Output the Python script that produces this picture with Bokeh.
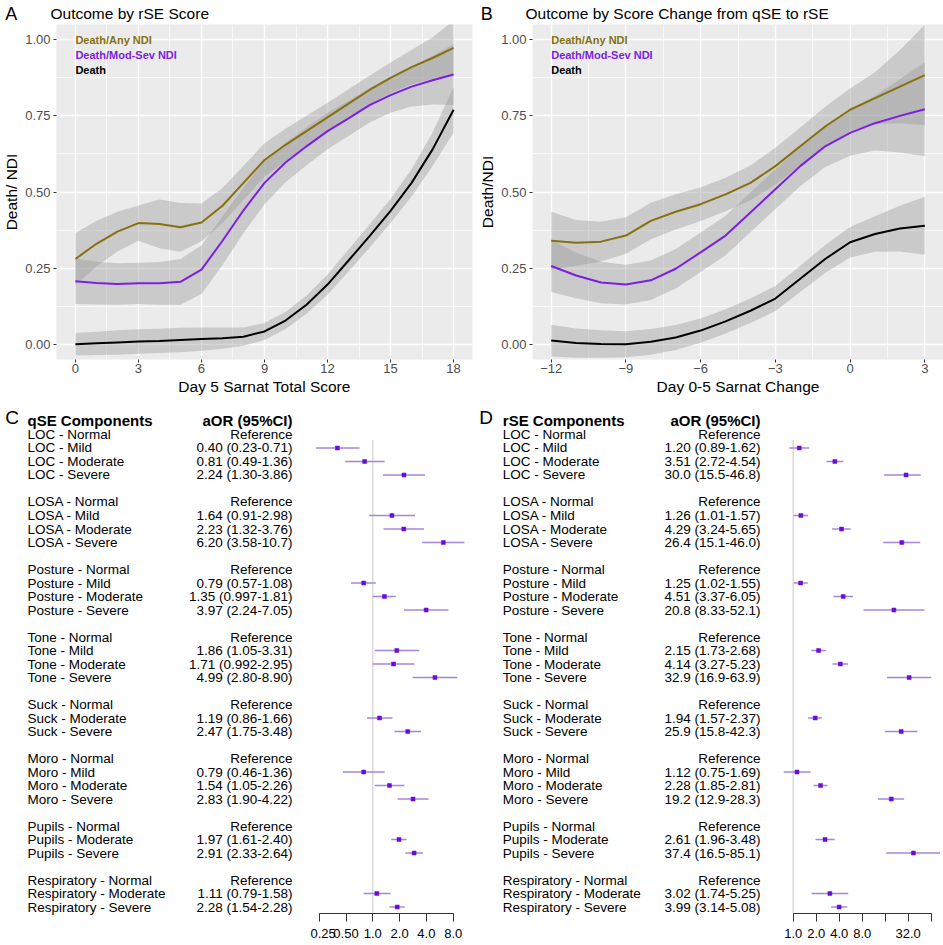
import math
from bokeh.plotting import figure
from bokeh.models import Range1d, FixedTicker, NumeralTickFormatter
from bokeh.layouts import row, column
from bokeh.embed import file_html
from bokeh.resources import INLINE
from bokeh.core.properties import value

FONT = "Liberation Sans"

# ---------------- Panel A data (Day 5 Sarnat total score) ----------------
a_x = [0, 1, 2, 3, 4, 5, 6, 7, 8, 9, 10, 11, 12, 13, 14, 15, 16, 17, 18]
a_any = [0.28, 0.33, 0.37, 0.398, 0.395, 0.384, 0.40, 0.455, 0.53, 0.605, 0.655, 0.70, 0.745, 0.79, 0.835, 0.875, 0.91, 0.94, 0.973]
a_any_hw = [0.085, 0.075, 0.065, 0.058, 0.08, 0.08, 0.062, 0.058, 0.056, 0.055, 0.053, 0.05, 0.048, 0.047, 0.047, 0.05, 0.056, 0.068, 0.09]
a_mod = [0.207, 0.201, 0.198, 0.20, 0.20, 0.205, 0.245, 0.34, 0.44, 0.53, 0.597, 0.65, 0.70, 0.742, 0.785, 0.818, 0.846, 0.867, 0.886]
a_mod_hw = [0.075, 0.07, 0.068, 0.068, 0.07, 0.075, 0.08, 0.08, 0.075, 0.07, 0.065, 0.062, 0.06, 0.058, 0.057, 0.058, 0.065, 0.08, 0.10]
a_death = [0.0, 0.003, 0.006, 0.009, 0.011, 0.014, 0.017, 0.02, 0.025, 0.042, 0.078, 0.13, 0.196, 0.275, 0.355, 0.438, 0.53, 0.64, 0.77]
a_death_hw = [0.037, 0.038, 0.04, 0.04, 0.04, 0.04, 0.038, 0.035, 0.03, 0.028, 0.028, 0.03, 0.033, 0.036, 0.038, 0.04, 0.045, 0.055, 0.075]
a_xticks = [0, 3, 6, 9, 12, 15, 18]

# ---------------- Panel B data (Day 0-5 Sarnat change) ----------------
b_x = [-12, -11, -10, -9, -8, -7, -6, -5, -4, -3, -2, -1, 0, 1, 2, 3]
b_any = [0.34, 0.333, 0.337, 0.357, 0.405, 0.435, 0.46, 0.492, 0.53, 0.585, 0.65, 0.715, 0.77, 0.808, 0.846, 0.884]
b_any_hw = [0.095, 0.075, 0.065, 0.06, 0.06, 0.058, 0.055, 0.055, 0.057, 0.06, 0.062, 0.065, 0.07, 0.085, 0.12, 0.165]
b_mod = [0.257, 0.226, 0.203, 0.196, 0.21, 0.248, 0.302, 0.357, 0.433, 0.509, 0.585, 0.65, 0.694, 0.726, 0.75, 0.772]
b_mod_hw = [0.085, 0.075, 0.068, 0.065, 0.065, 0.065, 0.065, 0.065, 0.065, 0.065, 0.066, 0.068, 0.075, 0.09, 0.12, 0.155]
b_death = [0.012, 0.004, 0.001, 0.0, 0.008, 0.022, 0.045, 0.075, 0.11, 0.15, 0.215, 0.28, 0.335, 0.362, 0.38, 0.389]
b_death_hw = [0.052, 0.048, 0.045, 0.043, 0.042, 0.041, 0.04, 0.04, 0.04, 0.041, 0.043, 0.046, 0.05, 0.058, 0.075, 0.095]
b_xticks = [-12, -9, -6, -3, 0, 3]

y_ticks = [0.0, 0.25, 0.5, 0.75, 1.0]
series_names = ["Death/Any NDI", "Death/Mod-Sev NDI", "Death"]
series_colors = ["#86700F", "#7B1FE2", "#000000"]
panel_titles = ["Outcome by rSE Score", "Outcome by Score Change from qSE to rSE"]
panel_letters = ["A", "B"]

# ---------------- Forest plot data ----------------
row_names = ["LOC - Normal", "LOC - Mild", "LOC - Moderate", "LOC - Severe", "",
             "LOSA - Normal", "LOSA - Mild", "LOSA - Moderate", "LOSA - Severe", "",
             "Posture - Normal", "Posture - Mild", "Posture - Moderate", "Posture - Severe", "",
             "Tone - Normal", "Tone - Mild", "Tone - Moderate", "Tone - Severe", "",
             "Suck - Normal", "Suck - Moderate", "Suck - Severe", "",
             "Moro - Normal", "Moro - Mild", "Moro - Moderate", "Moro - Severe", "",
             "Pupils - Normal", "Pupils - Moderate", "Pupils - Severe", "",
             "Respiratory - Normal", "Respiratory - Moderate", "Respiratory - Severe"]

c_text = ["Reference", "0.40 (0.23-0.71)", "0.81 (0.49-1.36)", "2.24 (1.30-3.86)", "",
          "Reference", "1.64 (0.91-2.98)", "2.23 (1.32-3.76)", "6.20 (3.58-10.7)", "",
          "Reference", "0.79 (0.57-1.08)", "1.35 (0.997-1.81)", "3.97 (2.24-7.05)", "",
          "Reference", "1.86 (1.05-3.31)", "1.71 (0.992-2.95)", "4.99 (2.80-8.90)", "",
          "Reference", "1.19 (0.86-1.66)", "2.47 (1.75-3.48)", "",
          "Reference", "0.79 (0.46-1.36)", "1.54 (1.05-2.26)", "2.83 (1.90-4.22)", "",
          "Reference", "1.97 (1.61-2.40)", "2.91 (2.33-2.64)", "",
          "Reference", "1.11 (0.79-1.58)", "2.28 (1.54-2.28)"]
c_est = [None, 0.40, 0.81, 2.24, None,
         None, 1.64, 2.23, 6.20, None,
         None, 0.79, 1.35, 3.97, None,
         None, 1.86, 1.71, 4.99, None,
         None, 1.19, 2.47, None,
         None, 0.79, 1.54, 2.83, None,
         None, 1.97, 2.91, None,
         None, 1.11, 1.88]
c_lo = [None, 0.23, 0.49, 1.30, None,
        None, 0.91, 1.32, 3.58, None,
        None, 0.57, 0.997, 2.24, None,
        None, 1.05, 0.992, 2.80, None,
        None, 0.86, 1.75, None,
        None, 0.46, 1.05, 1.90, None,
        None, 1.61, 2.33, None,
        None, 0.79, 1.54]
c_hi = [None, 0.71, 1.36, 3.86, None,
        None, 2.98, 3.76, 10.7, None,
        None, 1.08, 1.81, 7.05, None,
        None, 3.31, 2.95, 8.90, None,
        None, 1.66, 3.48, None,
        None, 1.36, 2.26, 4.22, None,
        None, 2.40, 3.65, None,
        None, 1.58, 2.28]
c_ticks = [0.25, 0.5, 1, 2, 4, 8]
c_tick_labels = ["0.25", "0.50", "1.0", "2.0", "4.0", "8.0"]

d_text = ["Reference", "1.20 (0.89-1.62)", "3.51 (2.72-4.54)", "30.0 (15.5-46.8)", "",
          "Reference", "1.26 (1.01-1.57)", "4.29 (3.24-5.65)", "26.4 (15.1-46.0)", "",
          "Reference", "1.25 (1.02-1.55)", "4.51 (3.37-6.05)", "20.8 (8.33-52.1)", "",
          "Reference", "2.15 (1.73-2.68)", "4.14 (3.27-5.23)", "32.9 (16.9-63.9)", "",
          "Reference", "1.94 (1.57-2.37)", "25.9 (15.8-42.3)", "",
          "Reference", "1.12 (0.75-1.69)", "2.28 (1.85-2.81)", "19.2 (12.9-28.3)", "",
          "Reference", "2.61 (1.96-3.48)", "37.4 (16.5-85.1)", "",
          "Reference", "3.02 (1.74-5.25)", "3.99 (3.14-5.08)"]
d_est = [None, 1.20, 3.51, 30.0, None,
         None, 1.26, 4.29, 26.4, None,
         None, 1.25, 4.51, 20.8, None,
         None, 2.15, 4.14, 32.9, None,
         None, 1.94, 25.9, None,
         None, 1.12, 2.28, 19.2, None,
         None, 2.61, 37.4, None,
         None, 3.02, 3.99]
d_lo = [None, 0.89, 2.72, 15.5, None,
        None, 1.01, 3.24, 15.1, None,
        None, 1.02, 3.37, 8.33, None,
        None, 1.73, 3.27, 16.9, None,
        None, 1.57, 15.8, None,
        None, 0.75, 1.85, 12.9, None,
        None, 1.96, 16.5, None,
        None, 1.74, 3.14]
d_hi = [None, 1.62, 4.54, 46.8, None,
        None, 1.57, 5.65, 46.0, None,
        None, 1.55, 6.05, 52.1, None,
        None, 2.68, 5.23, 63.9, None,
        None, 2.37, 42.3, None,
        None, 1.69, 2.81, 28.3, None,
        None, 3.48, 85.1, None,
        None, 5.25, 5.08]
d_ticks = [1, 2, 4, 8, 16, 32, 64]
d_tick_labels = ["1.0", "2.0", "4.0", "8.0", "", "32.0", ""]


def blank_fig(width, height, xr, yr, **kw):
    p = figure(width=width, height=height, x_range=xr, y_range=yr,
               x_axis_location=None, y_axis_location=None, min_border=0,
               output_backend="svg", toolbar_location=None, title_location=None, **kw)
    p.grid.visible = False
    p.outline_line_color = None
    return p


# ---------------- header strip: panel letters and titles ----------------
TOTAL_W = 940
HDR_H = 24
hdr = blank_fig(TOTAL_W, HDR_H, Range1d(0, TOTAL_W), Range1d(HDR_H, 0))
hdr.text(x=[50, 525], y=[13, 13], text=panel_titles, text_font=value(FONT),
         text_font_size="15.5px", text_baseline="alphabetic", text_align="left",
         text_color="black")
hdr.text(x=[10.7, 486.3], y=[13, 13], text=panel_letters, text_font=value(FONT),
         text_font_size="18px", text_baseline="middle", text_align="center",
         text_color="black")


def top_panel(x, ys, hws, xticks, lborder, fw, rborder, ytitle, xtitle):
    fh = 335
    step = xticks[1] - xticks[0]
    pad = (xticks[-1] - xticks[0]) * 0.05
    p = figure(frame_width=fw, frame_height=fh, min_border_left=lborder,
               min_border_right=rborder, min_border_top=0, min_border_bottom=40,
               x_range=Range1d(xticks[0] - pad, xticks[-1] + pad),
               y_range=Range1d(-0.05, 1.05), output_backend="svg",
               toolbar_location=None, title_location=None,
               background_fill_color="#EBEBEB", border_fill_color="white")
    p.outline_line_color = None
    for y, hw in zip(ys, hws):
        lo = [a - b for a, b in zip(y, hw)]
        hi = [a + b for a, b in zip(y, hw)]
        p.varea(x=x, y1=lo, y2=hi, fill_color="#999999", fill_alpha=0.4)
    for y, c in zip(ys, series_colors):
        p.line(x, y, line_color=c, line_width=2)
    p.text(x=[xticks[0]] * 3, y=[1.0 - 0.05 * i for i in range(3)],
           text=series_names, text_color=series_colors,
           text_font=value(FONT), text_font_style="bold", text_font_size="11px",
           text_baseline="middle", text_align="left")

    p.xaxis.ticker = FixedTicker(ticks=xticks,
                                 minor_ticks=[t + step / 2 for t in xticks[:-1]])
    p.yaxis.ticker = FixedTicker(ticks=y_ticks,
                                 minor_ticks=[t + 0.125 for t in y_ticks[:-1]])
    p.yaxis.formatter = NumeralTickFormatter(format="0.00")
    p.xaxis.axis_label = xtitle
    p.yaxis.axis_label = ytitle
    for ax in p.axis:
        ax.axis_line_color = None
        ax.major_tick_line_color = "#333333"
        ax.major_tick_out = 3
        ax.major_tick_in = 0
        ax.minor_tick_line_color = None
        ax.major_label_text_font = FONT
        ax.major_label_text_font_size = "13px"
        ax.major_label_text_color = "#4D4D4D"
        ax.axis_label_text_font = FONT
        ax.axis_label_text_font_size = "15.5px"
        ax.axis_label_text_font_style = "normal"
        ax.axis_label_text_color = "black"
        ax.axis_label_standoff = 2
    p.xaxis.major_label_standoff = 0
    p.yaxis.major_label_standoff = 2
    p.grid.grid_line_color = "white"
    p.grid.grid_line_width = 1.4
    p.grid.minor_grid_line_color = "white"
    p.grid.minor_grid_line_width = 0.7
    return p


FH = 512
BOT_BORDER = 31
Y_TOP, Y_BOT = -2.444, 35.48
ROW_PX = FH / (Y_BOT - Y_TOP)


def forest_side(text_left, forest_left, forest_right, one_px, ppd, name_x, lab_x,
                letter_x, header, letter, texts, est, lo, hi, ticks, tick_labels):
    # text columns: same row scale as the forest, frame extended over the bottom border
    tyr = Range1d(Y_BOT + BOT_BORDER / ROW_PX, Y_TOP)
    t = figure(frame_width=forest_left - text_left, frame_height=FH + BOT_BORDER,
               min_border_top=2, min_border_bottom=0, min_border_left=0,
               min_border_right=0, x_range=Range1d(text_left, forest_left),
               y_range=tyr, x_axis_location=None, y_axis_location=None,
               output_backend="svg", toolbar_location=None, title_location=None)
    t.grid.visible = False
    t.outline_line_color = None
    idx = [i for i, n in enumerate(row_names) if n]
    t.text(x=name_x, y=idx, text=[row_names[i] for i in idx], text_font=value(FONT),
           text_font_size="13.5px", text_baseline="middle", text_align="left",
           text_color="black")
    t.text(x=lab_x, y=idx, text=[texts[i] for i in idx], text_font=value(FONT),
           text_font_size="13.5px", text_baseline="middle", text_align="right",
           text_color="black")
    t.text(x=[name_x], y=[-1], text=[header], text_font=value(FONT),
           text_font_size="15px", text_font_style="bold", text_baseline="middle",
           text_align="left", text_color="black")
    t.text(x=[lab_x], y=[-1], text=["aOR (95%CI)"], text_font=value(FONT),
           text_font_size="15px", text_font_style="bold", text_baseline="middle",
           text_align="right", text_color="black")
    t.text(x=[letter_x], y=[-1.27], text=[letter], text_font=value(FONT),
           text_font_size="19px", text_baseline="middle", text_align="center",
           text_color="black")

    yr = Range1d(Y_BOT, Y_TOP)
    xr = Range1d(2 ** ((forest_left - one_px) / ppd), 2 ** ((forest_right - one_px) / ppd))
    f = figure(x_axis_type="log", frame_width=forest_right - forest_left,
               frame_height=FH, min_border_top=2, min_border_bottom=BOT_BORDER,
               min_border_left=0, min_border_right=0, x_range=xr, y_range=yr,
               y_axis_location=None, output_backend="svg", toolbar_location=None,
               title_location=None)
    f.outline_line_color = None
    f.grid.visible = False
    f.segment(x0=[1], y0=[0.4], x1=[1], y1=[yr.start], line_color="#DADADA",
              line_width=1.5)
    pts = [i for i in range(len(est)) if est[i] is not None]
    f.segment(x0=[lo[i] for i in pts], y0=pts, x1=[hi[i] for i in pts], y1=pts,
              line_color="#A487DA", line_width=1.6)
    f.scatter(x=[est[i] for i in pts], y=pts, marker="square", size=4,
              fill_color="#6A0DD8", line_color="#6A0DD8", line_width=0.5)
    ax = f.xaxis[0]
    ax.ticker = FixedTicker(ticks=ticks, minor_ticks=[])
    ax.major_label_overrides = {tk: lb for tk, lb in zip(ticks, tick_labels)}
    ax.bounds = (ticks[0], ticks[-1])
    ax.axis_line_color = "#333333"
    ax.axis_line_width = 1
    ax.major_tick_line_color = "#333333"
    ax.major_tick_out = 8
    ax.major_tick_in = 0
    ax.minor_tick_line_color = None
    ax.major_label_text_font = FONT
    ax.major_label_text_font_size = "13px"
    ax.major_label_text_color = "black"
    ax.major_label_standoff = 7
    return t, f


pa = top_panel(a_x, [a_any, a_mod, a_death], [a_any_hw, a_mod_hw, a_death_hw],
               a_xticks, 50, 416, 4, "Death/ NDI", "Day 5 Sarnat Total Score")
pb = top_panel(b_x, [b_any, b_mod, b_death], [b_any_hw, b_mod_hw, b_death_hw],
               b_xticks, 55, 411, 4, "Death/NDI", "Day 0-5 Sarnat Change")

tc, fc = forest_side(0, 310, 470, 372.3, 26.8, 27, 292, 11.7, "qSE Components", "C",
                     c_text, c_est, c_lo, c_hi, c_ticks, c_tick_labels)
td, fd = forest_side(470, 783, 940, 792.7, 23.0, 502.3, 760, 485.5, "rSE Components", "D",
                     d_text, d_est, d_lo, d_hi, d_ticks, d_tick_labels)

layout = column(hdr, row(pa, pb), row(tc, fc, td, fd))
open("out.html", "w").write(file_html(layout, INLINE))
